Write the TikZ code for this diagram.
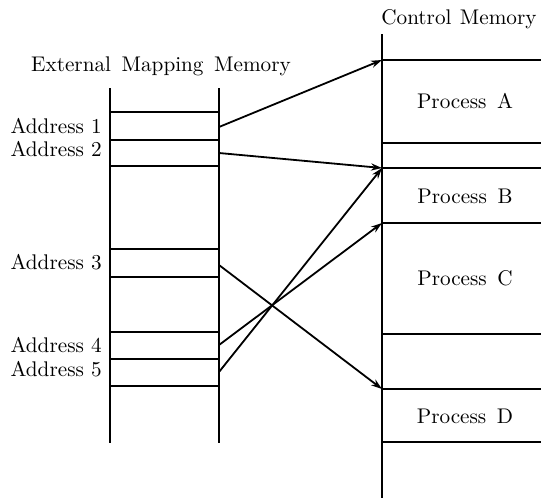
\documentclass[tikz,border=0pt]{standalone}
\usetikzlibrary{arrows.meta}
\begin{document}
\begin{tikzpicture}[x=0.5pt,y=-0.5pt,
  wall/.style={line width=0.9pt},
  slot/.style={line width=0.8pt},
  link/.style={line width=0.9pt,-{Stealth[length=5.5pt,width=3.6pt]}},
  lbl/.style={inner sep=0pt,font=\fontsize{10.6}{12}\selectfont},
  addr/.style={lbl,anchor=east},
  proc/.style={lbl,anchor=center}]
\useasboundingbox (0,0) rectangle (541,503);

% ---- External mapping memory ----
\node[lbl] (emtitle) at (161,66) {External\hspace{0.5em}Mapping\hspace{0.5em}Memory};
\draw[wall] (110,88) -- (110,443);
\draw[wall] (219,88) -- (219,443);
\foreach \yy in {112,140,166,249,277,332,359,386}
  \draw[slot] (110,\yy) -- (219,\yy);

\node[addr] (ad1) at (102,126) {Address\ 1};
\node[addr] (ad2) at (102,149) {Address\ 2};
\node[addr] (ad3) at (102,262) {Address\ 3};
\node[addr] (ad4) at (102,345) {Address\ 4};
\node[addr] (ad5) at (102,369) {Address\ 5};

% ---- Control memory ----
\node[lbl,anchor=east] (cmtitle) at (537,19) {Control\hspace{0.4em}Memory};
\draw[wall] (382,34) -- (382,498);
\foreach \yy in {60,143,168,223,334,389,442}
  \draw[slot] (383,\yy) -- (541,\yy);

\node[proc] (pA) at (465,101) {Process\hspace{0.5em}A};
\node[proc] (pB) at (465,196) {Process\hspace{0.5em}B};
\node[proc] (pC) at (465,278) {Process\hspace{0.5em}C};
\node[proc] (pD) at (465,416) {Process\hspace{0.5em}D};

% ---- mapping links ----
\coordinate (s1) at (219,127);
\coordinate (s2) at (219,153);
\coordinate (s3) at (219,265);
\coordinate (s4) at (219,345);
\coordinate (s5) at (219,372);
\coordinate (tA) at (382,60);
\coordinate (tB) at (382,168);
\coordinate (tC) at (382,223);
\coordinate (tD) at (382,389);

\draw[link] (s1) -- (tA);
\draw[link] (s2) -- (tB);
\draw[link] (s3) -- (tD);
\draw[link] (s4) -- (tC);
\draw[link] (s5) -- (tB);
\end{tikzpicture}
\end{document}
